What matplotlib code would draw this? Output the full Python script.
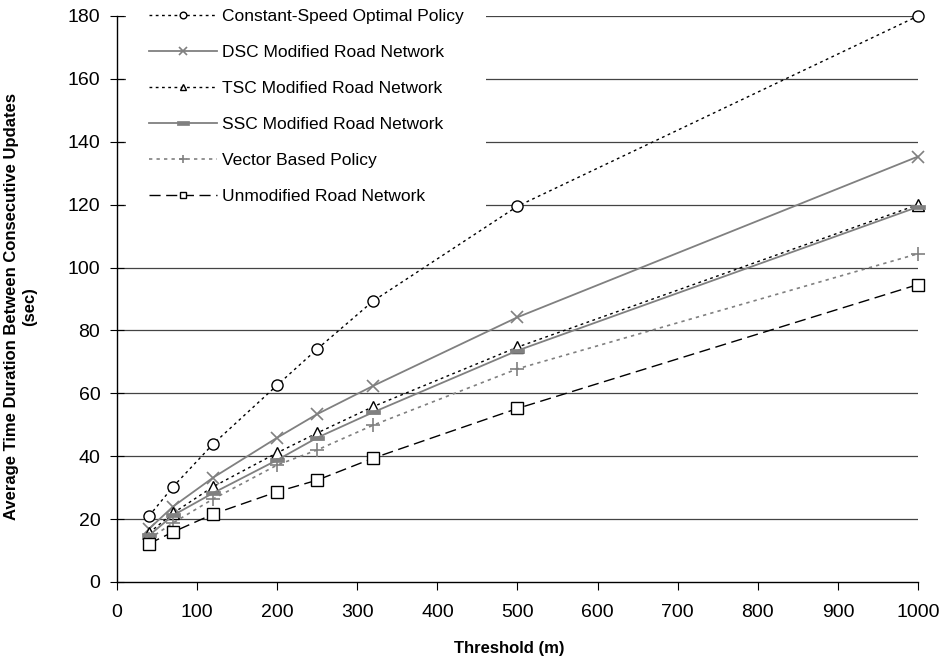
import matplotlib
matplotlib.use('Agg')
import matplotlib.pyplot as plt

plt.rcParams['font.family'] = ['Liberation Sans', 'DejaVu Sans']

# data
thresholds = [40, 70, 120, 200, 250, 320, 500, 1000]
constant_speed = [21.0, 30.3, 43.9, 62.6, 74.1, 89.4, 119.5, 180.0]
dsc = [16.9, 24.0, 33.2, 45.9, 53.4, 62.4, 84.2, 135.3]
tsc = [15.6, 21.9, 30.3, 41.1, 47.4, 55.8, 74.7, 120.0]
ssc = [14.8, 21.2, 28.3, 38.8, 45.9, 54.0, 73.6, 119.3]
vector_based = [13.7, 18.8, 26.4, 37.2, 42.0, 49.9, 67.8, 104.4]
unmodified = [12.2, 15.9, 21.6, 28.7, 32.4, 39.4, 55.2, 94.6]

labels = ['Constant-Speed Optimal Policy', 'DSC Modified Road Network',
          'TSC Modified Road Network', 'SSC Modified Road Network',
          'Vector Based Policy', 'Unmodified Road Network']

GRAY = '#808080'
rect = [(-1, -0.35), (1, -0.35), (1, 0.35), (-1, 0.35), (-1, -0.35)]

styles = [
    dict(color='black', ls=(0, (2, 2.5)), lw=1.0, marker='o', mfc='white', mec='black', ms=8, mew=1.0),
    dict(color=GRAY, ls='-', lw=1.3, marker='x', mfc='none', mec=GRAY, ms=9, mew=1.2),
    dict(color='black', ls=(0, (2, 2.5)), lw=1.0, marker='^', mfc='white', mec='black', ms=8, mew=1.0),
    dict(color=GRAY, ls='-', lw=1.3, marker=rect, mfc=GRAY, mec=GRAY, ms=10, mew=0.5),
    dict(color=GRAY, ls=(0, (2, 2.5)), lw=1.2, marker='+', mfc='none', mec=GRAY, ms=10, mew=1.2),
    dict(color='black', ls=(0, (8, 4)), lw=1.0, marker='s', mfc='white', mec='black', ms=8, mew=1.0),
]

series = [constant_speed, dsc, tsc, ssc, vector_based, unmodified]

fig = plt.figure(figsize=(9.45, 6.61), dpi=100)
ax = fig.add_axes([117 / 945, 1 - 582 / 661, (918 - 117) / 945, (582 - 16) / 661])

for yv in range(20, 181, 20):
    ax.axhline(yv, color='#444444', lw=0.9, zorder=0)

for vals, lab, st in zip(series, labels, styles):
    ax.plot(thresholds, vals, label=lab, clip_on=False, **st)

ax.set_xlim(0, 1000)
ax.set_ylim(0, 180)
ax.set_xticks(range(0, 1001, 100))
ax.set_yticks(range(0, 181, 20))
ax.tick_params(axis='both', labelsize=14, colors='black')
ax.tick_params(axis='y', direction='inout', length=10, pad=7)
ax.tick_params(axis='x', direction='out', length=6, pad=10)
for s in ['top', 'right']:
    ax.spines[s].set_visible(False)
ax.spines['left'].set_linewidth(1.0)
ax.spines['bottom'].set_linewidth(1.0)

ax.set_xlabel('Threshold (m)', fontsize=12, fontweight='bold', va='top')
ax.xaxis.set_label_coords(0.49, -0.105)
ax.set_ylabel('Average Time Duration Between Consecutive Updates\n(sec)',
              fontsize=12, fontweight='bold')
ax.yaxis.set_label_coords(-0.1, 0.486)

# legend sits on a white box that hides the gridlines behind it
leg = ax.legend(loc='upper left', bbox_to_anchor=(0.001, 1.068), frameon=True,
                facecolor='white', edgecolor='none', framealpha=1, fancybox=False,
                borderpad=1.3, fontsize=12.5, handlelength=3.9, handletextpad=0.3,
                labelspacing=1.2, markerscale=0.6)
leg.legend_handles[3].set_markersize(9)

fig.savefig('out.png', dpi=100)
